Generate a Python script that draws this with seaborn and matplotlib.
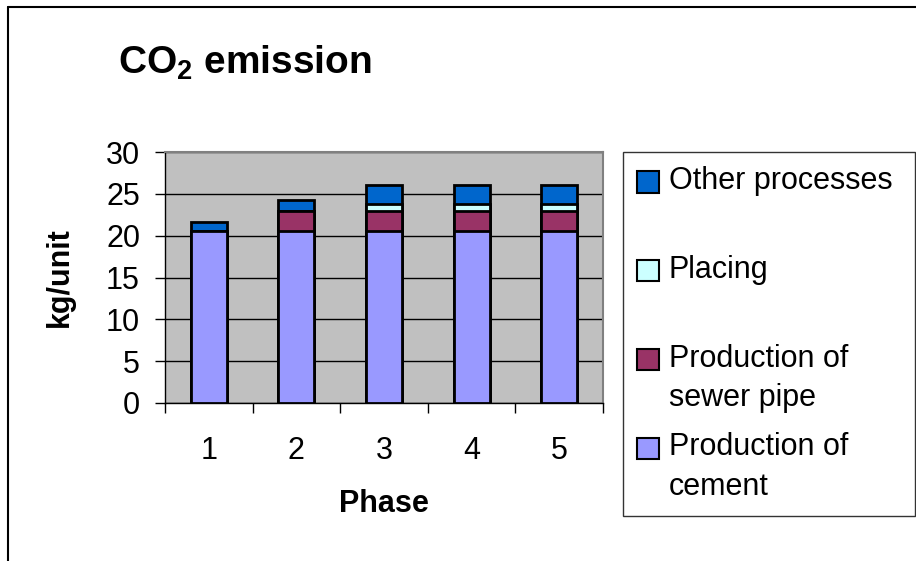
import matplotlib
matplotlib.use("Agg")
import matplotlib.pyplot as plt
from matplotlib.lines import Line2D
from matplotlib.patches import Patch
import numpy as np
import pandas as pd
import seaborn as sns

phases = ["1", "2", "3", "4", "5"]
cement = [20.5, 20.5, 20.5, 20.5, 20.5]
sewer_pipe = [0.0, 2.5, 2.5, 2.5, 2.5]
placing = [0.0, 0.0, 0.8, 0.8, 0.8]
other = [1.1, 1.25, 2.25, 2.25, 2.25]

series = ["Production of cement", "Production of sewer pipe", "Placing", "Other processes"]
legend_labels = ["Other processes\n", "Placing\n", "Production of\nsewer pipe", "Production of\ncement"]
colors = {"Production of cement": "#9999FF", "Production of sewer pipe": "#993366",
          "Placing": "#CCFFFF", "Other processes": "#0066CC"}

sns.set_style("white")
plt.rcParams["font.family"] = ["Liberation Sans", "DejaVu Sans"]
plt.rcParams["mathtext.fontset"] = "custom"
plt.rcParams["mathtext.rm"] = "Liberation Sans"
plt.rcParams["mathtext.bf"] = "Liberation Sans:bold"
for k in ["text.color", "axes.labelcolor", "xtick.color", "ytick.color"]:
    plt.rcParams[k] = "black"

fig = plt.figure(figsize=(9.16, 5.61), dpi=100)
ax = fig.add_axes([165/916, 1-403/561, (603-165)/916, (403-152)/561])
ax.set_facecolor("#C0C0C0")

vals = [cement, sewer_pipe, placing, other]
cum = np.cumsum(np.array(vals), axis=0)
# draw tallest cumulative first so lower segments overlay
for i in range(len(series) - 1, -1, -1):
    df = pd.DataFrame({"Phase": phases, "v": cum[i]})
    sns.barplot(data=df, x="Phase", y="v", color=colors[series[i]], width=0.41,
                edgecolor="black", linewidth=2, saturation=1, ax=ax, zorder=3)

ax.set_ylim(0, 30)
ax.set_xlim(-0.5, 4.5)
ax.set_yticks(range(0, 31, 5))
ax.grid(axis="y", color="black", linewidth=1, zorder=0)
ax.set_axisbelow(True)
for s in ["top", "right"]:
    ax.spines[s].set_color("#808080")
    ax.spines[s].set_linewidth(1.5)
for s in ["left", "bottom"]:
    ax.spines[s].set_color("black")
    ax.spines[s].set_linewidth(1)
ax.tick_params(axis="y", length=7, width=1, color="black", labelsize=22, pad=11, left=True)
ax.tick_params(axis="x", which="major", length=0, labelsize=22, pad=24)
ax.set_xticks(np.arange(-0.5, 5.0, 1.0), minor=True)
ax.tick_params(axis="x", which="minor", length=7, width=1, color="black", bottom=True)

ax.set_xlabel("Phase", fontsize=22, fontweight="bold", labelpad=16)
ax.set_ylabel("kg/unit", fontsize=22, fontweight="bold", labelpad=22)

fig.text(118/916, 1-63/561, r"CO$_\mathbf{2}$ emission", fontsize=28, fontweight="bold",
         va="center", ha="left")

handles = [Patch(facecolor=colors[s], edgecolor="black", linewidth=1.5) for s in reversed(series)]
leg = fig.legend(handles, legend_labels, loc="upper left",
                 bbox_to_anchor=(623/916, 1-152/561 - 0.01, 292/916, 0.01), mode="expand",
                 fontsize=22, frameon=True,
                 fancybox=False, edgecolor="black", labelspacing=0.63,
                 handlelength=0.72, handleheight=0.72, handletextpad=0.33,
                 borderpad=0.45, borderaxespad=0)
leg.get_frame().set_linewidth(1)
for t in leg.get_texts():
    t.set_linespacing(1.42)
# align each swatch with the first line of its label
for h in leg.legend_handles:
    h.set_y(h.get_y() + 14.2)

fig.add_artist(Line2D([8/916, 8/916], [0, 1-7/561], color="black", linewidth=1.5))
fig.add_artist(Line2D([8/916, 1], [1-7/561, 1-7/561], color="black", linewidth=1.5))

fig.savefig("out.png", dpi=100)
